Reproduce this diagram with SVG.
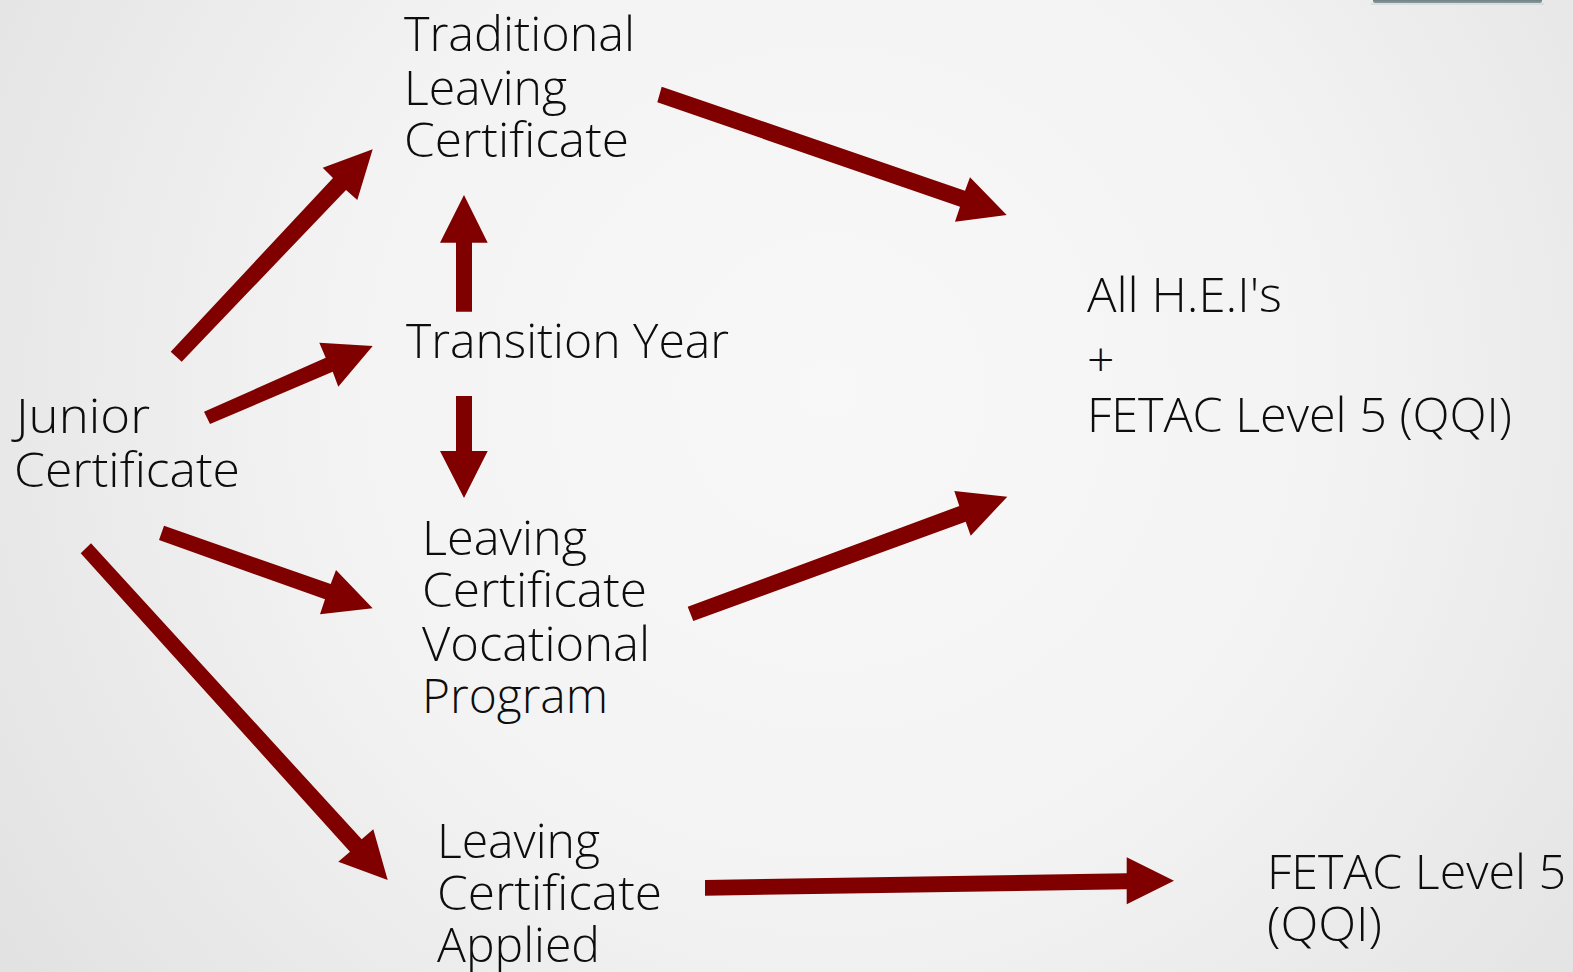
<svg xmlns="http://www.w3.org/2000/svg" width="1573" height="972" viewBox="0 0 1573 972">
<defs>
<radialGradient id="bg" cx="830" cy="390" r="1000" gradientUnits="userSpaceOnUse">
<stop offset="0" stop-color="#f8f8f8"/>
<stop offset="0.5" stop-color="#f3f3f3"/>
<stop offset="1" stop-color="#e2e2e2"/>
</radialGradient>
<linearGradient id="bar" x1="0" y1="0" x2="0" y2="1">
<stop offset="0" stop-color="#4f6166"/>
<stop offset="1" stop-color="#8a9a9e"/>
</linearGradient>
</defs>
<style>
.t{font-family:"Open Sans","Noto Sans","Liberation Sans",sans-serif;font-size:48px;font-weight:300;fill:#0d0d0d}
.a{fill:#800000;stroke:none}
</style>
<rect width="1573" height="972" fill="url(#bg)"/>
<rect x="1373" y="-4" width="169" height="7" rx="2" fill="url(#bar)"/>
<rect x="1371" y="3" width="173" height="2" fill="#cfd4d5" opacity="0.6"/>

<g id="connectors">
<polygon class="a" points="170.7,351.7 333,178 322.7,167.7 372.7,149.3 357.3,200 346,190 181.7,361.7"/>
<polygon class="a" points="204,411.7 325.7,357.7 319.3,342.7 372.7,346 338.3,386.7 332.7,371.7 210,424"/>
<polygon class="a" points="456,311.7 456,242.7 440,242.7 464,195 487.7,242.7 472,242.7 472,311.7"/>
<polygon class="a" points="456,396 456,451 440,451 464,498 487.7,451 472,451 472,396"/>
<polygon class="a" points="661.7,86.7 965,190.7 970,177.3 1006.7,215 955,221.7 960,206.7 657.3,102.3"/>
<polygon class="a" points="164,525.7 330.7,584 336,570 372.7,608.3 320,614.3 325,599.3 159,540"/>
<polygon class="a" points="91,543.3 361.7,839.3 373.3,829.3 387.7,880 338.3,861.7 350,851.7 80.7,553.3"/>
<polygon class="a" points="687.7,606.7 959.3,506 954.3,491 1007.3,496.7 970.7,535.7 965.7,521.7 693.3,621"/>
<polygon class="a" points="705,880 1126.7,873.3 1126.7,857.3 1174,880.7 1126.7,904.3 1126.7,889.3 705,895.7"/>
</g>

<g id="traditional">
<text class="t" x="404" y="51" textLength="231" lengthAdjust="spacingAndGlyphs">Traditional</text>
<text class="t" x="404" y="105" textLength="163" lengthAdjust="spacingAndGlyphs">Leaving</text>
<text class="t" x="404" y="157" textLength="225" lengthAdjust="spacingAndGlyphs">Certificate</text>
</g>
<g id="transition">
<text class="t" x="406" y="358" textLength="323" lengthAdjust="spacingAndGlyphs">Transition Year</text>
</g>
<g id="junior">
<text class="t" x="16" y="433" textLength="134" lengthAdjust="spacingAndGlyphs">Junior</text>
<text class="t" x="14" y="487" textLength="226" lengthAdjust="spacingAndGlyphs">Certificate</text>
</g>
<g id="lcvp">
<text class="t" x="422" y="555" textLength="165" lengthAdjust="spacingAndGlyphs">Leaving</text>
<text class="t" x="422" y="607" textLength="225" lengthAdjust="spacingAndGlyphs">Certificate</text>
<text class="t" x="422" y="661" textLength="228" lengthAdjust="spacingAndGlyphs">Vocational</text>
<text class="t" x="422" y="713" textLength="186" lengthAdjust="spacingAndGlyphs">Program</text>
</g>
<g id="lca">
<text class="t" x="437" y="858" textLength="163" lengthAdjust="spacingAndGlyphs">Leaving</text>
<text class="t" x="437" y="910" textLength="225" lengthAdjust="spacingAndGlyphs">Certificate</text>
<text class="t" x="437" y="962" textLength="163" lengthAdjust="spacingAndGlyphs">Applied</text>
</g>
<g id="hei">
<text class="t" x="1087" y="312" textLength="195" lengthAdjust="spacingAndGlyphs">All H.E.I's</text>
<text class="t" x="1087" y="377">+</text>
<text class="t" x="1087" y="432" textLength="425" lengthAdjust="spacingAndGlyphs">FETAC Level 5 (QQI)</text>
</g>
<g id="fetac">
<text class="t" x="1267" y="889" textLength="299" lengthAdjust="spacingAndGlyphs">FETAC Level 5</text>
<text class="t" x="1267" y="941" textLength="115" lengthAdjust="spacingAndGlyphs">(QQI)</text>
</g>
</svg>
